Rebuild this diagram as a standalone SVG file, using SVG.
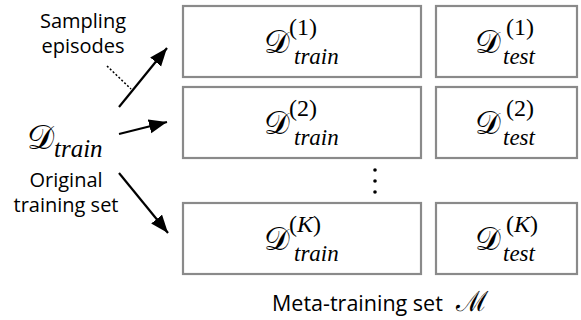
<svg xmlns="http://www.w3.org/2000/svg" width="581" height="320" viewBox="0 0 581 320">
<style>
.box{fill:#fff;stroke:#8a8a8a;stroke-width:2.2}
.lbl{font-family:"Open Sans","Noto Sans",sans-serif;font-size:20px;fill:#000;text-anchor:middle}
.cal{font-family:"DejaVu Serif","Liberation Serif",serif;font-size:32px;fill:#000}
.sub{font-family:"Liberation Serif",serif;font-style:italic;font-size:23px;fill:#000}
.sup{font-family:"Liberation Serif",serif;font-size:24px;fill:#000}
.arr{stroke:#000;stroke-width:2.2;fill:none}
</style>
<defs>
<marker id="ah" markerUnits="userSpaceOnUse" markerWidth="20" markerHeight="16" refX="18" refY="7" orient="auto">
<path d="M0,0 L18,7 L0,14 Z" fill="#000"/>
</marker>
</defs>
<rect width="581" height="320" fill="#fff"/>
<g id="source">
<text class="cal" x="27" y="149" style="font-size:34px">𝒟</text>
<text class="sub" x="54" y="157" style="font-size:25px">train</text>
</g>
<g id="sampling-label"><text class="lbl" x="83" y="28">Sampling</text><text class="lbl" x="83" y="53">episodes</text></g>
<g id="original-label"><text class="lbl" x="66" y="187">Original</text><text class="lbl" x="66" y="212">training set</text></g>
<g id="connectors">
<line class="arr" x1="119" y1="107" x2="167" y2="48" marker-end="url(#ah)"/>
<line class="arr" x1="119" y1="134" x2="167" y2="122" marker-end="url(#ah)"/>
<line class="arr" x1="119" y1="173" x2="168" y2="233" marker-end="url(#ah)"/>
<line x1="107" y1="66" x2="131" y2="89" stroke="#000" stroke-width="1.5" stroke-dasharray="2,2"/>
</g>
<g id="train1"><rect class="box" x="183" y="6" width="238" height="71"/><text class="cal" x="264" y="53">𝒟</text><text class="sup" x="289" y="35">(1)</text><text class="sub" x="294" y="64">train</text></g>
<g id="test1"><rect class="box" x="436" y="6" width="141" height="71"/><text class="cal" x="475" y="53">𝒟</text><text class="sup" x="506" y="35">(1)</text><text class="sub" x="503" y="64">test</text></g>
<g id="train2"><rect class="box" x="183" y="87" width="238" height="71"/><text class="cal" x="264" y="134">𝒟</text><text class="sup" x="289" y="116">(2)</text><text class="sub" x="294" y="145">train</text></g>
<g id="test2"><rect class="box" x="436" y="87" width="141" height="71"/><text class="cal" x="475" y="134">𝒟</text><text class="sup" x="506" y="116">(2)</text><text class="sub" x="503" y="145">test</text></g>
<g id="dots"><circle cx="375" cy="170" r="1.8"/><circle cx="375" cy="181" r="1.8"/><circle cx="375" cy="192" r="1.8"/></g>
<g id="trainK"><rect class="box" x="183" y="203" width="238" height="71"/><text class="cal" x="264" y="250">𝒟</text><text class="sup" x="289" y="232">(<tspan font-style="italic">K</tspan>)</text><text class="sub" x="294" y="261">train</text></g>
<g id="testK"><rect class="box" x="436" y="203" width="141" height="71"/><text class="cal" x="475" y="250">𝒟</text><text class="sup" x="506" y="232">(<tspan font-style="italic">K</tspan>)</text><text class="sub" x="503" y="261">test</text></g>
<g id="meta-label"><text class="lbl" x="272" y="311" style="font-size:21.5px;text-anchor:start">Meta-training set</text><text class="cal" x="456" y="311" style="font-size:28px">ℳ</text></g>
</svg>
